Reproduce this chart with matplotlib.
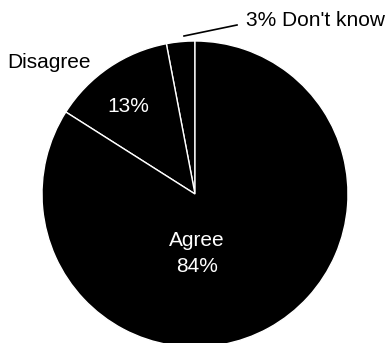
import matplotlib.pyplot as plt

labels = ["Don't know", "Disagree", "Agree"]
shares = [3, 13, 84]

plt.rcParams["font.family"] = ["Liberation Sans", "DejaVu Sans"]

W, H = 388, 343
fig = plt.figure(figsize=(W / 100, H / 100), dpi=100)
ax = fig.add_axes([0, 0, 1, 1])

# pie sits low so the bottom runs off the canvas
ax.pie(shares, startangle=90, counterclock=True, center=(195, H - 194), radius=153,
       colors=["black"] * 3, wedgeprops=dict(edgecolor="white", linewidth=1.0))

ax.set_xlim(0, W)
ax.set_ylim(0, H)
ax.set_aspect("equal")
ax.axis("off")

fs = 15
ax.text(7, H - 62, labels[1], fontsize=fs, color="black", va="center", ha="left")
ax.text(128, H - 107, f"{shares[1]}%", fontsize=fs, color="white", va="center", ha="center")
ax.text(197, H - 241, labels[2], fontsize=fs, color="white", va="center", ha="center")
ax.text(197, H - 266, f"{shares[2]}%", fontsize=fs, color="white", va="center", ha="center")
ax.text(246, H - 21, f"{shares[0]}% {labels[0]}", fontsize=fs, color="black",
        va="center", ha="left", clip_on=False)
ax.plot([184, 237], [H - 36, H - 25], color="black", linewidth=1.2)

fig.savefig("out.png", dpi=100)
